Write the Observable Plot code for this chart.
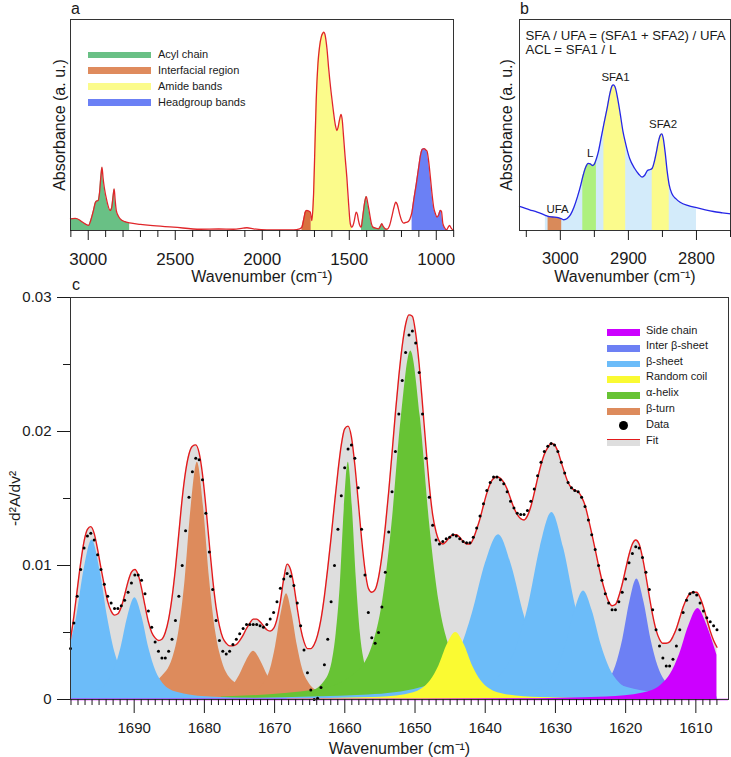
<!DOCTYPE html>
<html>
<head>
<meta charset="utf-8">
<script src="https://cdn.jsdelivr.net/npm/d3@7"></script>
<script src="https://cdn.jsdelivr.net/npm/@observablehq/plot@0.6"></script>
<style>
  body { margin: 0; background: #fff; }
  #root { position: relative; width: 731px; height: 757px; overflow: hidden; background: #fff;
          font-family: "Liberation Sans", Arial, Helvetica, sans-serif; color: #1a1a1a; }
  #root > svg, #root > figure { position: absolute; margin: 0; }
</style>
</head>
<body>
<div id="root"></div>
<script>
// ---------------- Panel a: full spectrum ----------------
const spectrumA = [
  [3102,0.055],[3075,0.057],[3050,0.05],[3034,0.04],[3015,0.03],[2998,0.024],[2985,0.05],[2970,0.095],
  [2960,0.13],[2954,0.139],[2943,0.142],[2935,0.18],[2927,0.26],[2921,0.30],[2915,0.25],[2908,0.205],
  [2893,0.14],[2874,0.095],[2865,0.11],[2857,0.165],[2851,0.197],[2846,0.15],[2839,0.095],[2828,0.07],
  [2816,0.055],[2790,0.042],[2762,0.036],[2700,0.029],[2644,0.024],[2510,0.016],[2356,0.006],[2250,0.007],
  [2165,0.006],[2110,0.011],[2088,0.013],[2050,0.008],[1973,0.003],[1900,0.003],[1820,0.003],[1785,0.008],
  [1772,0.016],[1760,0.06],[1753,0.087],[1744,0.095],[1735,0.093],[1724,0.087],[1718,0.06],[1715,0.047],
  [1708,0.12],[1705,0.174],[1698,0.38],[1690,0.616],[1680,0.79],[1671,0.869],[1660,0.92],[1652,0.935],
  [1646,0.94],[1640,0.93],[1628,0.86],[1619,0.774],[1605,0.66],[1594,0.584],[1580,0.5],[1571,0.474],
  [1564,0.49],[1557,0.521],[1547,0.55],[1540,0.52],[1534,0.458],[1524,0.35],[1514,0.253],[1504,0.13],
  [1494,0.032],[1485,0.016],[1478,0.025],[1471,0.047],[1460,0.087],[1453,0.075],[1447,0.047],[1440,0.025],
  [1433,0.016],[1430,0.02],[1425,0.05],[1418,0.095],[1410,0.14],[1402,0.161],[1395,0.135],[1383,0.079],
  [1372,0.03],[1364,0.016],[1345,0.01],[1332,0.008],[1320,0.022],[1313,0.032],[1305,0.02],[1293,0.008],
  [1283,0.006],[1270,0.02],[1256,0.063],[1243,0.11],[1233,0.134],[1225,0.125],[1211,0.079],[1198,0.045],
  [1188,0.035],[1175,0.038],[1159,0.044],[1145,0.07],[1139,0.09],[1130,0.142],[1115,0.22],[1101,0.30],
  [1090,0.36],[1080,0.385],[1070,0.388],[1060,0.382],[1053,0.376],[1044,0.33],[1034,0.253],[1024,0.17],
  [1015,0.11],[1005,0.08],[996,0.063],[986,0.075],[977,0.095],[970,0.09],[962,0.032],[951,0.012],
  [943,0.003],[939,0.005],[932,0.015],[924,0.024],[915,0.012],[904,0.003],[901,0.003]
];
const bandNamesA = ["Acyl chain", "Interfacial region", "Amide bands", "Headgroup bands"];
const regionsA = [
  {band: "Acyl chain", from: 3102, to: 2762},
  {band: "Interfacial region", from: 1772, to: 1718},
  {band: "Amide bands", from: 1718, to: 1485},
  {band: "Acyl chain", from: 1430, to: 1283},
  {band: "Headgroup bands", from: 1139, to: 939}
];
const majorTicksA = [3000, 2500, 2000, 1500, 1000];
const minorTicksA = [3100, 2900, 2800, 2700, 2600, 2400, 2300, 2200, 2100, 1900, 1800, 1700, 1600, 1400, 1300, 1200, 1100, 900];

// ---------------- Panel b: CH stretching region ----------------
const spectrumB = [
  [3060,0.114],[3045,0.098],[3034,0.087],[3022,0.072],[3018,0.067],[3012,0.064],[3005,0.062],[2998,0.055],
  [2995,0.051],[2990,0.057],[2985,0.075],[2980,0.11],[2975,0.158],[2970,0.215],[2967,0.255],[2963,0.298],
  [2959,0.318],[2956,0.316],[2953,0.308],[2950,0.315],[2947,0.34],[2944,0.375],[2940,0.44],[2936,0.505],
  [2931,0.584],[2927,0.652],[2924,0.685],[2922,0.690],[2919,0.675],[2916,0.63],[2912,0.553],[2908,0.47],
  [2904,0.411],[2898,0.34],[2891,0.295],[2885,0.268],[2880,0.253],[2876,0.262],[2872,0.284],[2868,0.289],
  [2865,0.295],[2862,0.325],[2859,0.37],[2856,0.42],[2853,0.452],[2851,0.458],[2849,0.44],[2846,0.37],
  [2843,0.28],[2840,0.215],[2836,0.174],[2830,0.15],[2824,0.134],[2812,0.118],[2800,0.108],[2787,0.098],
  [2775,0.09],[2762,0.084],[2750,0.079]
];
const bandNamesB = ["CH", "UFA", "L", "SFA1", "SFA2"];
const regionsB = [
  {band: "CH", from: 3022, to: 2800},
  {band: "UFA", from: 3018, to: 2998},
  {band: "L", from: 2967, to: 2947},
  {band: "SFA1", from: 2936, to: 2904},
  {band: "SFA2", from: 2865, to: 2840}
];
const peakLabelsB = [
  {label: "UFA", wn: 3004, v: 0.10},
  {label: "L", wn: 2956, v: 0.365},
  {label: "SFA1", wn: 2919, v: 0.725},
  {label: "SFA2", wn: 2849, v: 0.502}
];
const formulaB = ["SFA / UFA = (SFA1 + SFA2) / UFA", "ACL = SFA1 / L"];
const majorTicksB = [3000, 2900, 2800];
const minorTicksB = [3050, 2950, 2850, 2750];

// ---------------- Panel c: amide I second derivative ----------------
const dataWn = [1699.07,1698.59,1698.11,1697.62,1697.14,1696.66,1696.18,1695.70,1695.21,1694.73,
1694.25,1693.77,1693.28,1692.80,1692.32,1691.84,1691.36,1690.87,1690.39,1689.91,
1689.43,1688.95,1688.46,1687.98,1687.50,1687.02,1686.54,1686.05,1685.57,1685.09,
1684.61,1684.12,1683.64,1683.16,1682.68,1682.20,1681.71,1681.23,1680.75,1680.27,
1679.79,1679.30,1678.82,1678.34,1677.86,1677.38,1676.89,1676.41,1675.93,1675.45,
1674.97,1674.48,1674.00,1673.52,1673.04,1672.55,1672.07,1671.59,1671.11,1670.63,
1670.14,1669.66,1669.18,1668.70,1668.22,1667.73,1667.25,1666.77,1666.29,1665.81,
1665.32,1664.84,1664.36,1663.88,1663.39,1662.91,1662.43,1661.95,1661.47,1660.98,
1660.50,1660.02,1659.54,1659.06,1658.57,1658.09,1657.61,1657.13,1656.65,1656.16,
1655.68,1655.20,1654.72,1654.23,1653.75,1653.27,1652.79,1652.31,1651.82,1651.34,
1650.86,1650.38,1649.90,1649.41,1648.93,1648.45,1647.97,1647.49,1647.00,1646.52,
1646.04,1645.56,1645.07,1644.59,1644.11,1643.63,1643.15,1642.66,1642.18,1641.70,
1641.22,1640.74,1640.25,1639.77,1639.29,1638.81,1638.33,1637.84,1637.36,1636.88,
1636.40,1635.91,1635.43,1634.95,1634.47,1633.99,1633.50,1633.02,1632.54,1632.06,
1631.58,1631.09,1630.61,1630.13,1629.65,1629.17,1628.68,1628.20,1627.72,1627.24,
1626.76,1626.27,1625.79,1625.31,1624.83,1624.34,1623.86,1623.38,1622.90,1622.42,
1621.93,1621.45,1620.97,1620.49,1620.01,1619.52,1619.04,1618.56,1618.08,1617.60,
1617.11,1616.63,1616.15,1615.67,1615.18,1614.70,1614.22,1613.74,1613.26,1612.77,
1612.29,1611.81,1611.33,1610.85,1610.36,1609.88,1609.40,1608.92,1608.44,1607.95,
1607.47,1606.99];
const dataV = [0.0038,0.0057,0.0077,0.0097,0.0113,0.0122,0.0124,0.0119,0.0108,0.0097,
0.0086,0.0077,0.0072,0.0068,0.0068,0.0070,0.0074,0.0080,0.0087,0.0093,
0.0093,0.0089,0.0079,0.0066,0.0054,0.0043,0.0036,0.0031,0.0031,0.0036,
0.0045,0.0059,0.0077,0.0100,0.0126,0.0151,0.0170,0.0180,0.0179,0.0164,
0.0139,0.0110,0.0082,0.0059,0.0044,0.0036,0.0034,0.0036,0.0041,0.0045,
0.0049,0.0053,0.0056,0.0056,0.0056,0.0056,0.0055,0.0054,0.0056,0.0060,
0.0065,0.0073,0.0083,0.0090,0.0094,0.0092,0.0085,0.0072,0.0055,0.0037,
0.0020,0.0007,0.0000,0.0001,0.0009,0.0026,0.0045,0.0073,0.0100,0.0127,
0.0152,0.0173,0.0187,0.0190,0.0180,0.0158,0.0127,0.0093,0.0065,0.0046,
0.0042,0.0050,0.0069,0.0095,0.0125,0.0155,0.0185,0.0213,0.0238,0.0259,
0.0272,0.0275,0.0266,0.0244,0.0213,0.0180,0.0151,0.0130,0.0119,0.0116,
0.0118,0.0120,0.0121,0.0123,0.0122,0.0120,0.0118,0.0117,0.0117,0.0121,
0.0128,0.0137,0.0146,0.0156,0.0162,0.0166,0.0166,0.0164,0.0161,0.0155,
0.0148,0.0143,0.0139,0.0138,0.0138,0.0141,0.0148,0.0157,0.0167,0.0177,
0.0185,0.0189,0.0191,0.0190,0.0185,0.0177,0.0169,0.0162,0.0158,0.0156,
0.0155,0.0151,0.0144,0.0134,0.0123,0.0112,0.0100,0.0089,0.0079,0.0072,
0.0067,0.0067,0.0073,0.0080,0.0090,0.0102,0.0109,0.0114,0.0113,0.0106,
0.0095,0.0082,0.0067,0.0052,0.0040,0.0031,0.0025,0.0025,0.0030,0.0040,
0.0052,0.0065,0.0074,0.0079,0.0080,0.0078,0.0072,0.0066,0.0061,0.0058,
0.0055,0.0052];
const fitV = [0.0045,0.0062,0.0082,0.0102,0.0118,0.0127,0.0129,0.0124,0.0112,0.0098,
0.0085,0.0073,0.0066,0.0063,0.0064,0.0069,0.0078,0.0088,0.0095,0.0097,
0.0093,0.0083,0.0070,0.0058,0.0050,0.0046,0.0044,0.0045,0.0050,0.0060,
0.0076,0.0098,0.0124,0.0150,0.0170,0.0183,0.0189,0.0190,0.0184,0.0168,
0.0144,0.0116,0.0090,0.0069,0.0055,0.0046,0.0042,0.0040,0.0040,0.0041,
0.0044,0.0048,0.0053,0.0057,0.0060,0.0060,0.0058,0.0055,0.0052,0.0051,
0.0053,0.0060,0.0073,0.0090,0.0101,0.0097,0.0085,0.0068,0.0053,0.0043,
0.0038,0.0038,0.0041,0.0048,0.0060,0.0077,0.0098,0.0121,0.0146,0.0170,
0.0190,0.0202,0.0204,0.0196,0.0175,0.0148,0.0120,0.0097,0.0083,0.0080,
0.0082,0.0091,0.0107,0.0129,0.0155,0.0184,0.0214,0.0241,0.0264,0.0280,
0.0287,0.0286,0.0273,0.0250,0.0220,0.0189,0.0160,0.0138,0.0125,0.0118,
0.0116,0.0118,0.0121,0.0123,0.0123,0.0121,0.0118,0.0116,0.0116,0.0120,
0.0127,0.0135,0.0145,0.0154,0.0161,0.0165,0.0166,0.0165,0.0162,0.0157,
0.0150,0.0143,0.0138,0.0135,0.0134,0.0137,0.0144,0.0154,0.0165,0.0175,
0.0183,0.0188,0.0191,0.0190,0.0185,0.0177,0.0169,0.0162,0.0158,0.0156,
0.0155,0.0151,0.0145,0.0135,0.0124,0.0112,0.0100,0.0089,0.0080,0.0073,
0.0070,0.0071,0.0077,0.0086,0.0097,0.0108,0.0116,0.0119,0.0116,0.0106,
0.0092,0.0077,0.0063,0.0052,0.0045,0.0042,0.0042,0.0043,0.0047,0.0053,
0.0061,0.0069,0.0075,0.0079,0.0080,0.0080,0.0076,0.0069,0.0060,0.0051,
0.0044,0.0039];

// Fitted component bands (each band: [wavenumber, value] pairs)
const betaTurn = [
  [[1698.5,0.00012],[1689.75,0.0005],[1686.25,0.0016],[1684.5,0.0031],[1683.63,0.0051],[1682.75,0.0089],[1681.88,0.0144],[1681.0,0.0177],[1680.13,0.0144],[1679.25,0.0089],[1678.38,0.0050],[1677.5,0.0029],[1675.75,0.0013],[1672.25,0.0005],[1663.5,0.00012],[1646,0.00003]],
  [[1683,0.0001],[1679,0.00026],[1677,0.00057],[1676,0.001],[1675,0.0018],[1674,0.0029],[1673,0.0036],[1672,0.0029],[1671,0.0018],[1670,0.001],[1669,0.00057],[1667,0.00026],[1663,0.0001]],
  [[1683.8,0.00005],[1676.05,0.0002],[1672.95,0.00056],[1671.4,0.0013],[1670.63,0.0022],[1669.85,0.004],[1669.08,0.0064],[1668.3,0.0079],[1667.53,0.0064],[1666.75,0.004],[1665.98,0.0022],[1665.2,0.0013],[1663.65,0.00056],[1660.55,0.0002],[1652.8,0.00005]]
];
const alphaHelix = [
  [[1682.5,0.00003],[1671,0.00012],[1665.25,0.0005],[1662.95,0.0013],[1661.8,0.0028],[1661.23,0.0049],[1660.65,0.0085],[1660.08,0.0142],[1659.5,0.0177],[1658.93,0.0144],[1658.35,0.0089],[1657.78,0.0049],[1657.2,0.0028],[1656.05,0.0013],[1653.75,0.0005],[1648,0.00012],[1636.5,0.00003]],
  [[1677.6,0.00018],[1664.1,0.0007],[1658.7,0.00185],[1656,0.0041],[1654.65,0.0072],[1653.3,0.013],[1651.95,0.0211],[1650.6,0.026],[1649.25,0.0211],[1647.9,0.013],[1646.55,0.0072],[1645.2,0.0041],[1642.5,0.00185],[1637.1,0.0007],[1623.6,0.00018],[1607,0.00005]]
];
const interBetaSheet = [
  [[1638.4,0.00006],[1628.4,0.00025],[1624.4,0.00064],[1622.4,0.0014],[1621.4,0.0025],[1620.4,0.0045],[1619.4,0.0073],[1618.4,0.009],[1617.4,0.0073],[1616.4,0.0045],[1615.4,0.0025],[1614.4,0.0014],[1612.4,0.00064],[1608.4,0.00025],[1607,0.0002]]
];
const betaSheet = [
  [[1699.07,0.0041],[1698.25,0.0060],[1697.13,0.0097],[1696.0,0.0119],[1694.88,0.0097],[1693.75,0.0060],[1692.63,0.0033],[1691.5,0.0019],[1689.25,0.00085],[1684.75,0.00032],[1673.5,0.00008],[1651,0.00002]],
  [[1699.07,0.00008],[1695.9,0.00054],[1693.9,0.0012],[1692.9,0.0021],[1691.9,0.0038],[1690.9,0.0062],[1689.9,0.0076],[1688.9,0.0062],[1687.9,0.0038],[1686.9,0.0021],[1685.9,0.0012],[1683.9,0.00054],[1679.9,0.00021],[1669.9,0.00005]],
  [[1675.1,0.00008],[1656.6,0.00033],[1649.2,0.00087],[1645.5,0.002],[1643.65,0.0036],[1641.8,0.0065],[1639.95,0.0102],[1638.1,0.0123],[1636.25,0.0100],[1634.4,0.0062],[1632.55,0.0034],[1630.7,0.002],[1627,0.00087],[1619.6,0.00033],[1607,0.0001]],
  [[1664,0.00009],[1647.25,0.00038],[1640.55,0.001],[1637.2,0.0022],[1635.53,0.0039],[1633.85,0.007],[1632.18,0.0113],[1630.5,0.01395],[1628.83,0.0113],[1627.15,0.007],[1625.48,0.0039],[1623.8,0.0022],[1620.45,0.001],[1613.75,0.00038],[1607,0.00015]],
  [[1651,0.00006],[1638.5,0.00022],[1633.5,0.00058],[1631,0.0013],[1629.75,0.0023],[1628.5,0.0041],[1627.25,0.0066],[1626,0.0081],[1624.75,0.0066],[1623.5,0.0041],[1622.25,0.0023],[1621,0.0013],[1618.5,0.00058],[1613.5,0.00022],[1607,0.00008]]
];
const randomCoil = [
  [[1668.2,0.00004],[1656.2,0.00014],[1651.4,0.00036],[1649,0.0008],[1647.8,0.0014],[1646.6,0.0025],[1645.4,0.0041],[1644.2,0.005],[1643,0.0041],[1641.8,0.0025],[1640.6,0.0014],[1639.4,0.0008],[1637,0.00036],[1632.2,0.00014],[1620.2,0.00004],[1607,0.00001]]
];
const sideChain = [
  [[1699.07,0.00001],[1661.7,0.00001],[1635.7,0.00005],[1622.7,0.00019],[1617.5,0.00048],[1614.9,0.0011],[1613.6,0.0019],[1612.3,0.0034],[1611,0.0055],[1609.7,0.0068],[1608.4,0.0055],[1607.0,0.0033]]
];
const legendNamesC = ["Side chain", "Inter β-sheet", "β-sheet", "Random coil", "α-helix", "β-turn"];
const drawOrderC = ["β-turn", "α-helix", "Inter β-sheet", "β-sheet", "Random coil", "Side chain"];
const componentsC = {"β-turn": betaTurn, "α-helix": alphaHelix, "Inter β-sheet": interBetaSheet,
                     "β-sheet": betaSheet, "Random coil": randomCoil, "Side chain": sideChain};
const majorTicksCx = [1690, 1680, 1670, 1660, 1650, 1640, 1630, 1620, 1610];
const minorTicksCx = d3.range(1607, 1700).filter(t => t % 10 !== 0);
const majorTicksCy = [0, 0.01, 0.02, 0.03];
const minorTicksCy = [0.005, 0.015, 0.025];

// ---------------- Styles ----------------
const FONT = '"Liberation Sans", Arial, Helvetica, sans-serif';
const colorsA = {"Acyl chain": "#69c085", "Interfacial region": "#d9713f", "Amide bands": "#fbfb8b", "Headgroup bands": "#6b80f5"};
const legendColorsA = {"Acyl chain": "#69c085", "Interfacial region": "#df8b5d", "Amide bands": "#fbfb8b", "Headgroup bands": "#6b80f5"};
const colorsB = {"CH": "#d3ebfa", "UFA": "#d98a5a", "L": "#aef07f", "SFA1": "#fbfb8c", "SFA2": "#fbfb8c"};
const colorsC = {"Side chain": "#cc00ff", "Inter β-sheet": "#6d80f4", "β-sheet": "#6cbcf9",
                 "Random coil": "#fafa32", "α-helix": "#67c334", "β-turn": "#dd8b5c"};

const root = document.getElementById("root");
function put(node, left, top) { node.style.position = "absolute"; node.style.left = left + "px"; node.style.top = top + "px"; root.appendChild(node); return node; }
function htmlText(text, left, top, size) {
  const d = document.createElement("div");
  d.textContent = text;
  d.style.cssText = `font-size:${size}px;line-height:1.15;white-space:nowrap;color:#1a1a1a;`;
  return put(d, left, top);
}
function box(left, top, w, h, color, radius) {
  const d = document.createElement("div");
  d.style.cssText = `width:${w}px;height:${h}px;background:${color};${radius ? "border-radius:50%;" : ""}`;
  return put(d, left, top);
}
const regionRows = (spec, regions) => regions.flatMap((r, i) =>
  spec.filter(([w]) => w <= r.from && w >= r.to).map(([wn, v]) => ({seg: i, band: r.band, wn, v})));

// ---------------- Panel a ----------------
const plotA = Plot.plot({
  width: 470, height: 285, marginLeft: 70, marginRight: 17, marginTop: 19, marginBottom: 55,
  style: {fontFamily: FONT, fontSize: "16px", color: "#1a1a1a", background: "transparent", overflow: "visible"},
  x: {domain: [3102, 901]},
  y: {domain: [0, 1], axis: null},
  color: {domain: bandNamesA, range: bandNamesA.map(b => colorsA[b])},
  marks: [
    Plot.areaY(regionRows(spectrumA, regionsA), {x: "wn", y1: 0, y2: "v", z: "seg", fill: "band", curve: "monotone-x"}),
    Plot.line(spectrumA.map(([wn, v]) => ({wn, v})), {x: "wn", y: "v", stroke: "#e0262a", strokeWidth: 1.3, curve: "monotone-x"}),
    Plot.frame({stroke: "#333"}),
    Plot.axisX({ticks: majorTicksA, tickSize: 10, tickPadding: 12, fontSize: 17, tickFormat: d => String(d), label: null}),
    Plot.axisX({ticks: minorTicksA, tickSize: 7, tickFormat: () => "", label: null}),
    Plot.text(["Wavenumber (cm⁻¹)"], {text: d => d, frameAnchor: "bottom", dy: 46, lineAnchor: "middle", textAnchor: "middle", fontSize: 16}),
    Plot.text(["Absorbance (a. u.)"], {text: d => d, frameAnchor: "left", dx: -11, rotate: -90, lineAnchor: "middle", textAnchor: "middle", fontSize: 16})
  ]
});
put(plotA, 0, 0);

// Panel a legend
const legendYA = [55, 70.7, 86.7, 102.5];
bandNamesA.forEach((b, i) => {
  box(88, legendYA[i] - 3.3, 63, 6.6, legendColorsA[b]);
  htmlText(b, 158, legendYA[i] - 7, 11);
});

// ---------------- Panel b ----------------
const plotB = Plot.plot({
  width: 261, height: 285, marginLeft: 49, marginRight: 1, marginTop: 19, marginBottom: 55,
  style: {fontFamily: FONT, fontSize: "16px", color: "#1a1a1a", background: "transparent", overflow: "visible"},
  x: {domain: [3060, 2750]},
  y: {domain: [0, 1], axis: null},
  color: {domain: bandNamesB, range: bandNamesB.map(b => colorsB[b])},
  marks: [
    Plot.areaY(regionRows(spectrumB, regionsB), {x: "wn", y1: 0, y2: "v", z: "seg", fill: "band", curve: "monotone-x"}),
    Plot.line(spectrumB.map(([wn, v]) => ({wn, v})), {x: "wn", y: "v", stroke: "#2626e6", strokeWidth: 1.3, curve: "monotone-x"}),
    Plot.text(peakLabelsB, {x: "wn", y: "v", text: "label", fontSize: 11.5, lineAnchor: "middle"}),
    Plot.text([formulaB[0]], {text: d => d, frameAnchor: "top-left", dx: 6, dy: 16.5, textAnchor: "start", lineAnchor: "middle", fontSize: 13.2}),
    Plot.text([formulaB[1]], {text: d => d, frameAnchor: "top-left", dx: 6, dy: 30.5, textAnchor: "start", lineAnchor: "middle", fontSize: 13.2}),
    Plot.frame({stroke: "#333"}),
    Plot.axisX({ticks: majorTicksB, tickSize: 10, tickPadding: 12, fontSize: 16.5, tickFormat: d => String(d), label: null}),
    Plot.axisX({ticks: minorTicksB, tickSize: 7, tickFormat: () => "", label: null}),
    Plot.text(["Wavenumber (cm⁻¹)"], {text: d => d, frameAnchor: "bottom", dy: 46, lineAnchor: "middle", textAnchor: "middle", fontSize: 16}),
    Plot.text(["Absorbance (a. u.)"], {text: d => d, frameAnchor: "left", dx: -12.5, rotate: -90, lineAnchor: "middle", textAnchor: "middle", fontSize: 16})
  ]
});
put(plotB, 470, 0);

// ---------------- Panel c ----------------
const dotsC = dataWn.map((wn, i) => ({wn, v: dataV[i]}));
const fitC = dataWn.map((wn, i) => ({wn, v: fitV[i]}));
const compRows = drawOrderC.flatMap(cls => componentsC[cls].flatMap((peak, j) =>
  peak.map(([wn, v]) => ({cls, id: cls + "-" + j, wn, v}))));

const plotC = Plot.plot({
  width: 731, height: 472, marginLeft: 70, marginRight: 3, marginTop: 12, marginBottom: 58,
  style: {fontFamily: FONT, fontSize: "15px", color: "#1a1a1a", background: "transparent", overflow: "visible"},
  x: {domain: [1699.07, 1605.35]},
  y: {domain: [0, 0.03]},
  color: {domain: legendNamesC, range: legendNamesC.map(c => colorsC[c])},
  marks: [
    Plot.areaY(fitC, {x: "wn", y1: 0, y2: "v", fill: "#dedede", curve: "monotone-x"}),
    Plot.areaY(compRows, {x: "wn", y1: 0, y2: "v", z: "id", fill: "cls", curve: "monotone-x", clip: true}),
    Plot.ruleY([0], {stroke: "#cc00ff", strokeWidth: 1.6}),
    Plot.line(fitC, {x: "wn", y: "v", stroke: "#e31a1c", strokeWidth: 1.4, curve: "monotone-x"}),
    Plot.dot(dotsC, {x: "wn", y: "v", r: 1.5, fill: "#000", stroke: "none"}),
    Plot.frame({stroke: "#333"}),
    Plot.axisX({ticks: majorTicksCx, tickSize: 14, tickPadding: 9, fontSize: 15, tickFormat: d => String(d), label: null}),
    Plot.axisX({ticks: minorTicksCx, tickSize: 6, tickFormat: () => "", label: null}),
    Plot.axisY({ticks: majorTicksCy, tickSize: 13, tickPadding: 6, fontSize: 15, tickFormat: d => d === 0 ? "0" : d.toFixed(2), label: null}),
    Plot.axisY({ticks: minorTicksCy, tickSize: 7, tickFormat: () => "", label: null}),
    Plot.text(["Wavenumber (cm⁻¹)"], {text: d => d, frameAnchor: "bottom", dy: 49, lineAnchor: "middle", textAnchor: "middle", fontSize: 16}),
    Plot.text(["-d²A/dv²"], {text: d => d, frameAnchor: "left", dx: -55, rotate: -90, lineAnchor: "middle", textAnchor: "middle", fontSize: 15.5})
  ]
});
put(plotC, 0, 285);

// Panel c legend
const legendYC = [332.7, 348.5, 364, 379.8, 395.7, 411.7];
const legendTextYC = [330.7, 346.2, 361.5, 377.3, 393.3, 408.8];
legendNamesC.forEach((c, i) => {
  box(607, legendYC[i] - 3.4, 33, 6.8, colorsC[c]);
  htmlText(c, 646, legendTextYC[i] - 7, 11);
});
box(618.8, 420.5, 9, 9, "#000", true);
htmlText("Data", 646, 425 - 7, 11);
box(607, 440, 33, 6, "#dedede");
box(607, 438.5, 33, 1.8, "#e31a1c");
htmlText("Fit", 646, 440.7 - 7, 11);

// Panel letters
htmlText("a", 71, 0, 16);
htmlText("b", 520, 0, 16);
htmlText("c", 72, 276, 16);
</script>
</body>
</html>
